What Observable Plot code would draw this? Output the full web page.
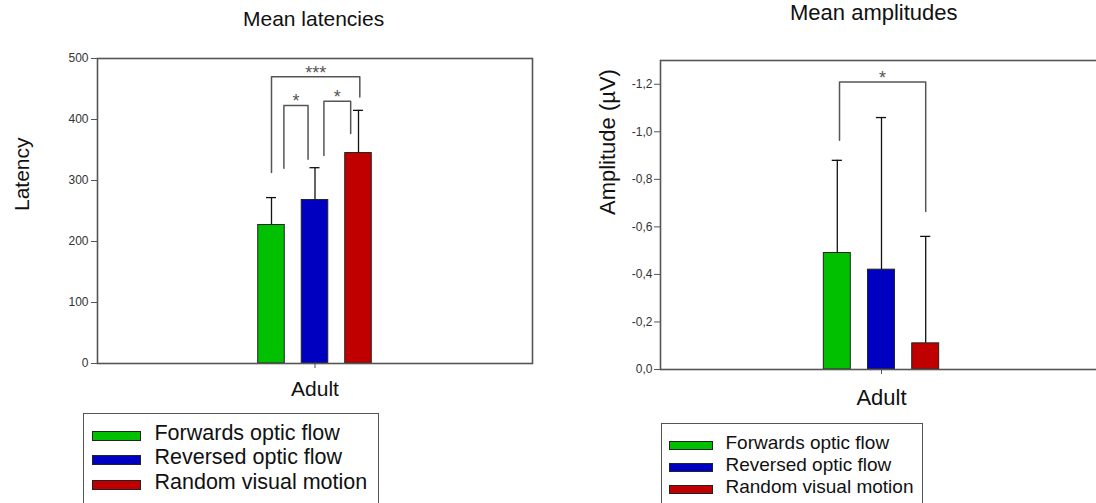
<!DOCTYPE html>
<html><head><meta charset="utf-8">
<script src="https://cdn.jsdelivr.net/npm/d3@7"></script>
<script src="https://cdn.jsdelivr.net/npm/@observablehq/plot@0.6"></script>
<style>
html,body{margin:0;padding:0;background:#fff;overflow:hidden;}
#root{position:relative;width:1096px;height:503px;overflow:hidden;font-family:"Liberation Sans",Arial,sans-serif;color:#111;}
.title{position:absolute;width:300px;text-align:center;line-height:1;white-space:nowrap;color:#111;}
.chart{position:absolute;top:0;}
.chart svg{max-width:none !important;}
.legend{position:absolute;border:1.5px solid #555;box-sizing:border-box;background:#fff;}
.row{position:absolute;left:0;display:flex;align-items:center;white-space:nowrap;color:#111;}
.sw{box-sizing:border-box;border:1px solid #222;position:relative;}
</style></head><body><div id="root"></div>
<script>
// ---------- data ----------
const conditions = ["Forwards optic flow", "Reversed optic flow", "Random visual motion"];
const barColors = ["#00c000", "#0000c0", "#c00000"];
const group = "Adult";

const latencyTitle = "Mean latencies";
const latencyLabel = "Latency";
const latencyMean = [227, 268, 345];
const latencyError = [45, 53, 70];
const latencyTicks = [0, 100, 200, 300, 400, 500];
const latencyBrackets = [
  {from: 0, to: 2, top: 470, fromEnd: 313, toEnd: 437, label: "***"},
  {from: 0, to: 1, top: 423, fromEnd: 320, toEnd: 335, label: "*"},
  {from: 1, to: 2, top: 430, fromEnd: 341, toEnd: 377, label: "*"}
];

const amplitudeTitle = "Mean amplitudes";
const amplitudeLabel = "Amplitude (µV)";
const amplitudeMean = [-0.49, -0.42, -0.11];
const amplitudeError = [0.39, 0.64, 0.45];
const amplitudeTicks = [0, -0.2, -0.4, -0.6, -0.8, -1.0, -1.2];
const amplitudeBrackets = [
  {from: 0, to: 2, top: -1.21, fromEnd: -0.965, toEnd: -0.665, label: "*"}
];

// ---------- drawing ----------
const commaFormat = d3.formatLocale({decimal: ",", thousands: ".", grouping: [3], currency: ["", ""], minus: "-"}).format(".1f");

function makeChart(o) {
  const rows = conditions.map((c, i) => ({
    condition: c, i, mean: o.means[i],
    top: o.means[i] + Math.sign(o.means[i]) * o.errors[i]
  }));
  const pts = o.brackets.flatMap((b, k) => {
    const xa = b.from + o.shifts[k][0], xb = b.to + o.shifts[k][1];
    return [{k, x: xa, y: b.fromEnd}, {k, x: xa, y: b.top}, {k, x: xb, y: b.top}, {k, x: xb, y: b.toEnd}];
  });
  const labels = o.brackets.map((b, k) => ({
    x: (b.from + o.shifts[k][0] + b.to + o.shifts[k][1]) / 2, y: b.top, label: b.label
  }));
  const halfBar = 0.305, halfCap = 0.115;
  return Plot.plot({
    width: o.width, height: o.height,
    marginLeft: o.ml, marginRight: o.mr, marginTop: o.mt, marginBottom: o.mb,
    style: {fontFamily: '"Liberation Sans", Arial, sans-serif', fontSize: "12px", color: "#333", background: "transparent", overflow: "visible", maxWidth: "none"},
    x: {domain: [-4, 6]},
    y: {domain: o.yDomain},
    color: {domain: conditions, range: barColors},
    marks: [
      Plot.rectY(rows, {x1: d => d.i - halfBar, x2: d => d.i + halfBar, y1: 0, y2: "mean", fill: "condition", stroke: "#222", strokeWidth: 1}),
      Plot.ruleX(rows, {x: "i", y1: "mean", y2: "top", stroke: "#111", strokeWidth: 1.3}),
      Plot.ruleY(rows, {x1: d => d.i - halfCap, x2: d => d.i + halfCap, y: "top", stroke: "#111", strokeWidth: 1.3}),
      Plot.line(pts, {x: "x", y: "y", z: "k", stroke: "#555", strokeWidth: 1.5}),
      Plot.text(labels, {x: "x", y: "y", text: "label", lineAnchor: "bottom", dy: 2, fontSize: 18, fill: "#555"}),
      Plot.frame({stroke: "#555", strokeWidth: 1.6}),
      Plot.axisY({ticks: o.ticks, tickFormat: o.tickFormat, tickSize: 6, tickPadding: o.tp, label: null, stroke: "#555", fill: "#333", fontSize: 12}),
      Plot.axisX({ticks: [1], tickFormat: () => group, tickSize: 5, tickPadding: o.xtp, label: null, stroke: "#555", fill: "#111", fontSize: o.fs}),
      Plot.text([o.label], {text: d => d, frameAnchor: "left", dx: o.labelDx, rotate: -90, fontSize: o.fs, fill: "#111"})
    ]
  });
}

function addTitle(root, text, cx, top, fs) {
  const t = document.createElement("div");
  t.className = "title";
  t.textContent = text;
  t.style.left = (cx - 150) + "px";
  t.style.top = top + "px";
  t.style.fontSize = fs + "px";
  root.appendChild(t);
}

function addChart(root, svg, left, width) {
  const d = document.createElement("div");
  d.className = "chart";
  d.style.left = left + "px";
  d.style.width = width + "px";
  d.appendChild(svg);
  root.appendChild(d);
}

function addLegend(root, o) {
  const box = document.createElement("div");
  box.className = "legend";
  Object.assign(box.style, {left: o.left + "px", top: o.top + "px", width: o.width + "px", height: "130px"});
  conditions.forEach((c, i) => {
    const row = document.createElement("div");
    row.className = "row";
    Object.assign(row.style, {top: (o.first + o.step * i - o.step / 2) + "px", height: o.step + "px", paddingLeft: o.swLeft + "px", fontSize: o.fs + "px"});
    const sw = document.createElement("span");
    sw.className = "sw";
    Object.assign(sw.style, {width: o.swW + "px", height: o.swH + "px", background: barColors[i], marginRight: o.gap + "px", top: "2.5px"});
    const tx = document.createElement("span");
    tx.textContent = c;
    row.appendChild(sw); row.appendChild(tx);
    box.appendChild(row);
  });
  root.appendChild(box);
}

const root = document.getElementById("root");

addChart(root, makeChart({
  means: latencyMean, errors: latencyError, ticks: latencyTicks, tickFormat: d => String(d),
  brackets: latencyBrackets, shifts: [[0, 0.03], [0.285, -0.16], [0.205, -0.18]],
  yDomain: [0, 500], label: latencyLabel, labelDx: -75, fs: 21, tp: 3, xtp: 13,
  width: 560, height: 410, ml: 97, mr: 28, mt: 58, mb: 47
}), 0, 560);

addChart(root, makeChart({
  means: amplitudeMean, errors: amplitudeError, ticks: amplitudeTicks, tickFormat: commaFormat,
  brackets: amplitudeBrackets, shifts: [[0.05, 0]],
  yDomain: [0, -1.3], label: amplitudeLabel, labelDx: -52.5, fs: 22, tp: 2, xtp: 15,
  width: 560, height: 410, ml: 100, mr: 18, mt: 60, mb: 41
}), 560, 560);

addTitle(root, latencyTitle, 313.6, 8, 21);
addTitle(root, amplitudeTitle, 873.8, 2, 22);

addLegend(root, {left: 83.3, top: 413.3, width: 296, first: 19.5, step: 24.2, swLeft: 7.9, swW: 49, swH: 10, gap: 13.3, fs: 21.5});
addLegend(root, {left: 660.7, top: 423.3, width: 262.6, first: 18.5, step: 22, swLeft: 7.1, swW: 44, swH: 8.5, gap: 12.7, fs: 19});
</script></body></html>
